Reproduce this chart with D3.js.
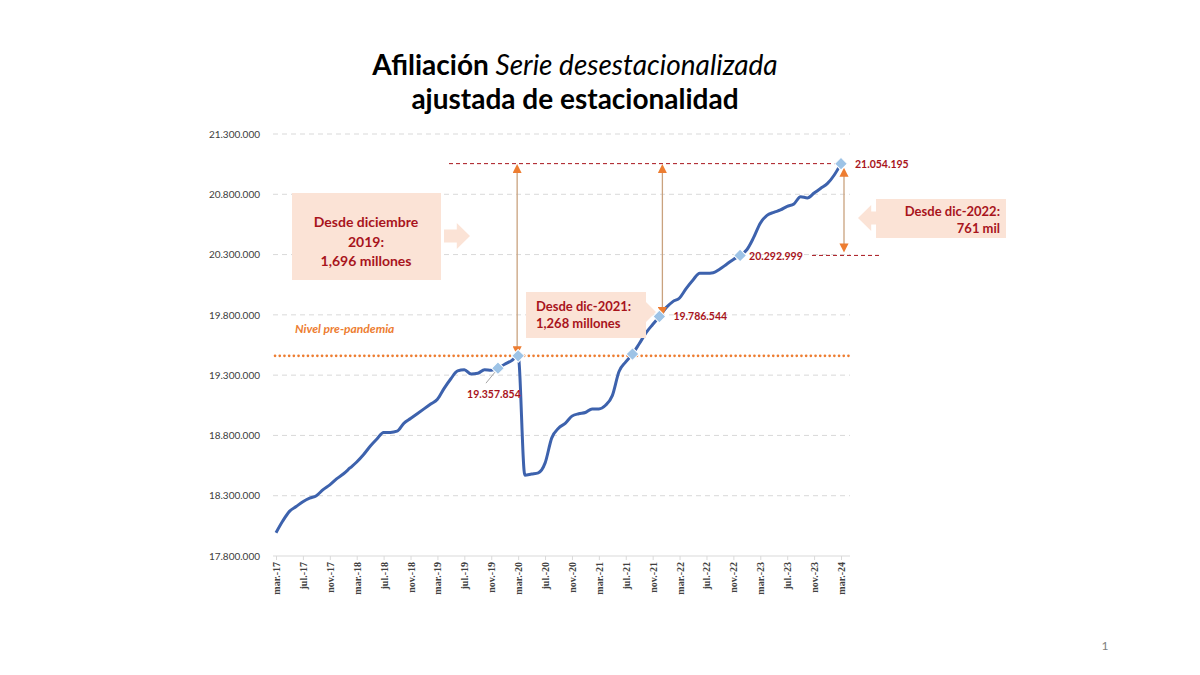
<!DOCTYPE html>
<html>
<head>
<meta charset="utf-8">
<script src="https://cdn.jsdelivr.net/npm/d3@7"></script>
<style>
body { margin: 0; background: #fff; }
svg { display: block; }
</style>
</head>
<body>
<svg id="chart" width="1200" height="675"></svg>
<script>
// monthly categories, mar.-17 .. mar.-24
const monthNames = ["ene.", "feb.", "mar.", "abr.", "may.", "jun.", "jul.", "ago.", "sep.", "oct.", "nov.", "dic."];
const categories = [];
for (let y = 2017, m = 2; y < 2024 || m <= 2; m++) {
	if (m === 12) { m = 0; y++; }
	categories.push(monthNames[m] + "-" + String(y).slice(2));
	if (y === 2024 && m === 2) break;
}

// afiliados, serie desestacionalizada
const afiliados = [
	17993000, 18090000, 18170000, 18210000, 18250000, 18280000, 18300000, 18350000, 18390000, 18440000,
	18480000, 18530000, 18580000, 18640000, 18710000, 18770000, 18825000, 18825000, 18835000, 18900000,
	18940000, 18980000, 19020000, 19060000, 19100000, 19190000, 19270000, 19335000, 19345000, 19310000,
	19315000, 19345000, 19340000, 19357854, 19390000, 19420000, 19460000, 18470000, 18480000, 18490000,
	18570000, 18780000, 18860000, 18900000, 18960000, 18980000, 18990000, 19020000, 19020000, 19050000,
	19130000, 19330000, 19410000, 19475000, 19560000, 19650000, 19720000, 19786544, 19860000, 19910000,
	19940000, 20020000, 20090000, 20145000, 20145000, 20150000, 20180000, 20220000, 20260000, 20292999,
	20340000, 20440000, 20560000, 20625000, 20650000, 20670000, 20700000, 20720000, 20780000, 20770000,
	20810000, 20850000, 20890000, 20960000, 21054195
];

const yTicks = [17800000, 18300000, 18800000, 19300000, 19800000, 20300000, 20800000, 21300000];
const xTickLabels = ["mar.-17", "jul.-17", "nov.-17", "mar.-18", "jul.-18", "nov.-18", "mar.-19", "jul.-19",
	"nov.-19", "mar.-20", "jul.-20", "nov.-20", "mar.-21", "jul.-21", "nov.-21", "mar.-22", "jul.-22",
	"nov.-22", "mar.-23", "jul.-23", "nov.-23", "mar.-24"];

const markedMonths = ["dic.-19", "mar.-20", "ago.-21", "dic.-21", "dic.-22", "mar.-24"];
const labelledMonths = ["dic.-19", "dic.-21", "dic.-22", "mar.-24"];
const preCovidLevel = 19460000;

const data = categories.map((c, i) => ({ month: c, value: afiliados[i] }));

const es = d3.formatLocale({ decimal: ",", thousands: ".", grouping: [3], currency: ["", " €"] });
const fmt = es.format(",");

const svg = d3.select("#chart");
const x = d3.scalePoint().domain(categories).range([276, 841]);
const y = d3.scaleLinear().domain([17800000, 21300000]).range([556, 134]);

const darkRed = "#a8141c";
const orange = "#ED7D31";
const peach = "#FBE3D6";
const font = "Lato, 'Open Sans', sans-serif";

// title
const title = svg.append("text").attr("x", 575).attr("y", 75).attr("text-anchor", "middle")
	.attr("font-family", font).attr("font-size", 28).attr("fill", "#000");
title.append("tspan").attr("font-weight", "bold").text("Afiliación ");
title.append("tspan").attr("font-style", "italic").text("Serie desestacionalizada");
svg.append("text").attr("x", 575).attr("y", 109).attr("text-anchor", "middle")
	.attr("font-family", font).attr("font-size", 28).attr("font-weight", "bold").text("ajustada de estacionalidad");

// grid
svg.append("g").selectAll("line").data(yTicks.slice(1)).enter().append("line")
	.attr("x1", 273).attr("x2", 850)
	.attr("y1", d => y(d)).attr("y2", d => y(d))
	.attr("stroke", "#d9d9d9").attr("stroke-dasharray", "5,4").attr("stroke-width", 1);

// y axis labels
const yAxis = svg.append("g").attr("transform", "translate(263,0)")
	.call(d3.axisLeft(y).tickValues(yTicks).tickFormat(fmt).tickSize(0));
yAxis.select(".domain").remove();
yAxis.selectAll("text").attr("font-family", font).attr("font-size", 10).attr("fill", "#404040").attr("dx", 0);

// x axis
svg.append("line").attr("x1", 273).attr("x2", 850).attr("y1", 556).attr("y2", 556)
	.attr("stroke", "#d9d9d9").attr("stroke-width", 1);
const xAxis = svg.append("g").attr("transform", "translate(0,556)")
	.call(d3.axisBottom(x).tickValues(xTickLabels).tickSize(4));
xAxis.select(".domain").remove();
xAxis.selectAll("line").attr("stroke", "#d9d9d9");
xAxis.selectAll("text")
	.attr("font-family", "'Liberation Serif', serif").attr("font-size", 10).attr("font-weight", "bold")
	.attr("fill", "#404040")
	.attr("transform", "rotate(-90)").attr("text-anchor", "end")
	.attr("x", -6).attr("y", 0).attr("dy", "0.35em");

// pre-pandemic level
svg.append("line").attr("x1", 275).attr("x2", 850).attr("y1", y(preCovidLevel)).attr("y2", y(preCovidLevel))
	.attr("stroke", orange).attr("stroke-width", 2.6).attr("stroke-dasharray", "0.1,4.6").attr("stroke-linecap", "round");
svg.append("text").attr("x", 295).attr("y", 333).attr("font-family", font).attr("font-size", 12)
	.attr("font-style", "italic").attr("font-weight", "bold").attr("fill", orange).text("Nivel pre-pandemia");

// reference dashed lines
const last = data[data.length - 1];
const dec22 = data.find(d => d.month === "dic.-22");
svg.append("line").attr("x1", 449).attr("x2", x(last.month)).attr("y1", y(last.value)).attr("y2", y(last.value))
	.attr("stroke", darkRed).attr("stroke-dasharray", "4,3").attr("stroke-width", 1);
svg.append("line").attr("x1", 812).attr("x2", 882).attr("y1", y(dec22.value)).attr("y2", y(dec22.value))
	.attr("stroke", darkRed).attr("stroke-dasharray", "4,3").attr("stroke-width", 1);

// series line
svg.append("path").datum(data)
	.attr("fill", "none").attr("stroke", "#3d62ad").attr("stroke-width", 3).attr("stroke-linejoin", "round")
	.attr("d", d3.line().x(d => x(d.month)).y(d => y(d.value)).curve(d3.curveMonotoneX));

// arrows
const defs = svg.append("defs");
["start", "end"].forEach(k => {
	defs.append("marker").attr("id", "head-" + k).attr("viewBox", "0 0 10 10")
		.attr("refX", 5).attr("refY", 5).attr("markerWidth", 7).attr("markerHeight", 7)
		.attr("orient", "auto-start-reverse")
		.append("path").attr("d", "M0,0 L10,5 L0,10 z").attr("fill", orange);
});
function vArrow(xPos, v1, v2) {
	svg.append("line").attr("x1", xPos).attr("x2", xPos).attr("y1", y(v1) + 5).attr("y2", y(v2) - 5)
		.attr("stroke", "#c9a27e").attr("stroke-width", 1.3)
		.attr("marker-start", "url(#head-start)").attr("marker-end", "url(#head-end)");
}
const peak = data.find(d => d.month === "mar.-20");
const dec21 = data.find(d => d.month === "dic.-21");
vArrow(x("mar.-20") - 1, last.value, peak.value);
vArrow(x("dic.-21") + 3, last.value, dec21.value);
vArrow(x("mar.-24") + 3, last.value - 30000, dec22.value + 20000);

// boxes
function blockArrow(x0, yc, w, h, dir) {
	const hw = h * 0.6, sh = h * 0.3;
	let pts;
	if (dir > 0) pts = [[x0, yc - sh], [x0 + w - hw, yc - sh], [x0 + w - hw, yc - h / 2 - 2], [x0 + w, yc],
		[x0 + w - hw, yc + h / 2 + 2], [x0 + w - hw, yc + sh], [x0, yc + sh]];
	else pts = [[x0, yc - sh], [x0 - w + hw, yc - sh], [x0 - w + hw, yc - h / 2 - 2], [x0 - w, yc],
		[x0 - w + hw, yc + h / 2 + 2], [x0 - w + hw, yc + sh], [x0, yc + sh]];
	svg.append("polygon").attr("points", pts.map(p => p.join(",")).join(" ")).attr("fill", peach);
}
svg.append("rect").attr("x", 292).attr("y", 193).attr("width", 149).attr("height", 87).attr("fill", peach);
blockArrow(444, 236, 26, 22, 1);
const t1 = svg.append("text").attr("text-anchor", "middle").attr("font-family", font).attr("font-size", 14)
	.attr("font-weight", "bold").attr("fill", darkRed);
[["Desde diciembre", 227], ["2019:", 247], ["1,696 millones", 266]].forEach(l =>
	t1.append("tspan").attr("x", 366).attr("y", l[1]).text(l[0]));

svg.append("rect").attr("x", 526).attr("y", 292).attr("width", 120).attr("height", 46).attr("fill", peach);
blockArrow(640, 312, 16, 20, 1);
const t2 = svg.append("text").attr("font-family", font).attr("font-size", 13)
	.attr("font-weight", "bold").attr("fill", darkRed);
[["Desde dic-2021:", 311], ["1,268 millones", 328]].forEach(l =>
	t2.append("tspan").attr("x", 536).attr("y", l[1]).text(l[0]));

svg.append("rect").attr("x", 876).attr("y", 199).attr("width", 130).attr("height", 39).attr("fill", peach);
blockArrow(876, 218, 18, 22, -1);
const t3 = svg.append("text").attr("text-anchor", "end").attr("font-family", font).attr("font-size", 13)
	.attr("font-weight", "bold").attr("fill", darkRed);
[["Desde dic-2022:", 216], ["761 mil", 233]].forEach(l =>
	t3.append("tspan").attr("x", 1000).attr("y", l[1]).text(l[0]));

// markers
svg.append("g").selectAll("rect").data(data.filter(d => markedMonths.includes(d.month))).enter().append("rect")
	.attr("x", -4.5).attr("y", -4.5).attr("width", 9).attr("height", 9)
	.attr("fill", "#9dc3e6").attr("stroke", "#fff").attr("stroke-width", 1)
	.attr("transform", d => "translate(" + x(d.month) + "," + y(d.value) + ") rotate(45)");

// data labels
const dec19 = data.find(d => d.month === "dic.-19");
svg.append("line").attr("x1", x(dec19.month) - 3).attr("y1", y(dec19.value) + 4)
	.attr("x2", x(dec19.month) - 12).attr("y2", y(dec19.value) + 15).attr("stroke", "#a6a6a6");
const labelOffsets = { "dic.-19": [-4, 30, "middle"], "dic.-21": [14, 4, "start"], "dic.-22": [9, 5, "start"], "mar.-24": [14, 4, "start"] };
svg.append("g").selectAll("text").data(data.filter(d => labelledMonths.includes(d.month))).enter().append("text")
	.attr("x", d => x(d.month) + labelOffsets[d.month][0])
	.attr("y", d => y(d.value) + labelOffsets[d.month][1])
	.attr("text-anchor", d => labelOffsets[d.month][2])
	.attr("font-family", font).attr("font-size", 10.5).attr("font-weight", "bold").attr("fill", darkRed)
	.text(d => fmt(d.value));

// slide number
svg.append("text").attr("x", 1105).attr("y", 650).attr("text-anchor", "middle")
	.attr("font-family", font).attr("font-size", 12).attr("fill", "#7f7f7f").text("1");
</script>
</body>
</html>
